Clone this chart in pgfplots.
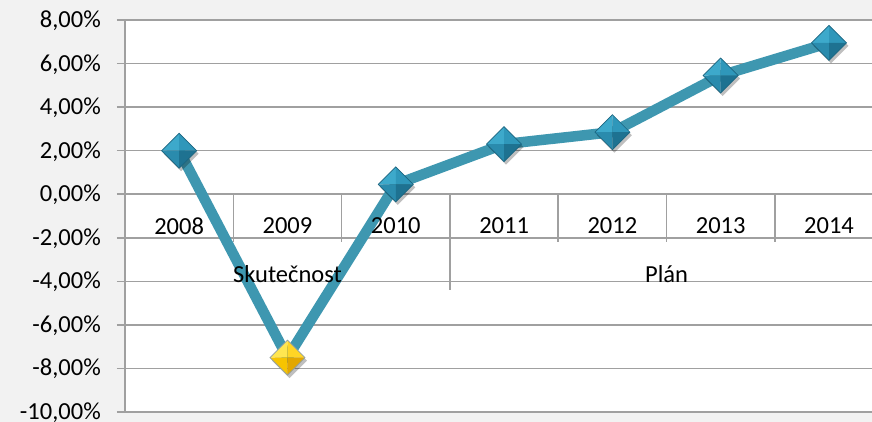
\documentclass[border=0pt]{standalone}
\usepackage{pgfplots}
\pgfplotsset{compat=1.18}
\usepackage{fontspec}
\setmainfont{Carlito}
\definecolor{bgc}{HTML}{F2F2F2}
\definecolor{gridc}{HTML}{A0A0A0}
\definecolor{linec}{RGB}{62,151,176}
\definecolor{tA}{HTML}{3DA9CB}
\definecolor{tB}{HTML}{2F97BA}
\definecolor{tC}{HTML}{2A8BAD}
\definecolor{tD}{HTML}{1E7291}
\definecolor{tE}{HTML}{1B6580}
\definecolor{yA}{HTML}{FFE650}
\definecolor{yB}{HTML}{FFD525}
\definecolor{yC}{HTML}{F7C400}
\definecolor{yD}{HTML}{E2A700}
\definecolor{yE}{HTML}{8E9EA4}
\newcommand\bevdiamond[5]{%
  \begin{pgfscope}
    \pgfsetfillopacity{0.25}\pgfsetfillcolor{black}%
    \pgfpathmoveto{\pgfpoint{-\pgfplotmarksize+2pt}{-3pt}}%
    \pgfpathlineto{\pgfpoint{2pt}{\pgfplotmarksize-3pt}}%
    \pgfpathlineto{\pgfpoint{\pgfplotmarksize+2pt}{-3pt}}%
    \pgfpathlineto{\pgfpoint{2pt}{-\pgfplotmarksize-3pt}}%
    \pgfpathclose\pgfusepath{fill}%
  \end{pgfscope}
  \begin{pgfscope}
    \pgfpathmoveto{\pgfpointorigin}\pgfpathlineto{\pgfqpoint{-\pgfplotmarksize}{0pt}}\pgfpathlineto{\pgfqpoint{0pt}{\pgfplotmarksize}}\pgfpathclose
    \pgfsetfillcolor{#1}\pgfusepath{fill}%
    \pgfpathmoveto{\pgfpointorigin}\pgfpathlineto{\pgfqpoint{\pgfplotmarksize}{0pt}}\pgfpathlineto{\pgfqpoint{0pt}{\pgfplotmarksize}}\pgfpathclose
    \pgfsetfillcolor{#2}\pgfusepath{fill}%
    \pgfpathmoveto{\pgfpointorigin}\pgfpathlineto{\pgfqpoint{-\pgfplotmarksize}{0pt}}\pgfpathlineto{\pgfqpoint{0pt}{-\pgfplotmarksize}}\pgfpathclose
    \pgfsetfillcolor{#3}\pgfusepath{fill}%
    \pgfpathmoveto{\pgfpointorigin}\pgfpathlineto{\pgfqpoint{\pgfplotmarksize}{0pt}}\pgfpathlineto{\pgfqpoint{0pt}{-\pgfplotmarksize}}\pgfpathclose
    \pgfsetfillcolor{#4}\pgfusepath{fill}%
    \pgfpathmoveto{\pgfqpoint{-\pgfplotmarksize}{0pt}}%
    \pgfpathlineto{\pgfqpoint{0pt}{\pgfplotmarksize}}%
    \pgfpathlineto{\pgfqpoint{\pgfplotmarksize}{0pt}}%
    \pgfpathlineto{\pgfqpoint{0pt}{-\pgfplotmarksize}}%
    \pgfpathclose
    \pgfsetstrokecolor{#5}\pgfsetlinewidth{0.7pt}\pgfusepath{stroke}%
  \end{pgfscope}}
\pgfdeclareplotmark{bdiamT}{\bevdiamond{tA}{tB}{tC}{tD}{tE}}
\pgfdeclareplotmark{bdiamY}{\bevdiamond{yA}{yB}{yC}{yD}{yE}}
\begin{document}
\begin{tikzpicture}[font=\fontsize{24.5}{29}\selectfont]
\fill[bgc] (0,0) rectangle (872pt,422pt);
\begin{axis}[
  at={(125pt,10pt)}, anchor=south west,
  scale only axis, width=747pt, height=392pt,
  xmin=-0.5, xmax=6.397, ymin=-10, ymax=8,
  axis x line=none, axis y line*=left,
  axis line style={gridc, line width=1.5pt},
  axis background/.style={fill=white},
  ytick={-10,-8,...,8},
  yticklabels={-10{,}00\%,-8{,}00\%,-6{,}00\%,-4{,}00\%,-2{,}00\%,0{,}00\%,2{,}00\%,4{,}00\%,6{,}00\%,8{,}00\%},
  ymajorgrids, grid style={gridc, line width=1.5pt},
  tick align=outside, major tick length=8pt,
  ytick style={gridc, line width=1.5pt},
  yticklabel style={anchor=base east, inner sep=0pt, text depth=0pt, xshift=-16pt, yshift=-7.5pt, font=\fontsize{24.5}{29}\selectfont},
  clip=false,
]
\addplot[linec, line width=10.5pt, line join=round, mark=none]
  coordinates {(0,2.0)(1,-7.5)(2,0.45)(3,2.3)(4,2.85)(5,5.45)(6,6.95)};
\addplot[only marks, mark=bdiamT, mark size=17.5pt]
  coordinates {(0,2.0)(2,0.45)(3,2.3)(4,2.85)(5,5.45)(6,6.95)};
\addplot[only marks, mark=bdiamY, mark size=17.5pt]
  coordinates {(1,-7.5)};
\draw[gridc, line width=1.5pt] (axis cs:0.5,0) -- (axis cs:0.5,-2.2);
\draw[gridc, line width=1.5pt] (axis cs:1.5,0) -- (axis cs:1.5,-2.2);
\draw[gridc, line width=1.5pt] (axis cs:3.5,0) -- (axis cs:3.5,-2.2);
\draw[gridc, line width=1.5pt] (axis cs:4.5,0) -- (axis cs:4.5,-2.2);
\draw[gridc, line width=1.5pt] (axis cs:5.5,0) -- (axis cs:5.5,-2.2);
\draw[gridc, line width=1.5pt] (axis cs:2.5,0) -- (axis cs:2.5,-4.4);
\node at (axis cs:0,-1.45) {2008};
\node at (axis cs:1,-1.45) {2009};
\node at (axis cs:2,-1.45) {2010};
\node at (axis cs:3,-1.45) {2011};
\node at (axis cs:4,-1.45) {2012};
\node at (axis cs:5,-1.45) {2013};
\node at (axis cs:6,-1.45) {2014};
\node at (axis cs:1,-3.65) {Skutečnost};
\node at (axis cs:4.5,-3.65) {Plán};
\end{axis}
\pgfresetboundingbox
\useasboundingbox (0,0) rectangle (872pt,422pt);
\end{tikzpicture}
\end{document}
